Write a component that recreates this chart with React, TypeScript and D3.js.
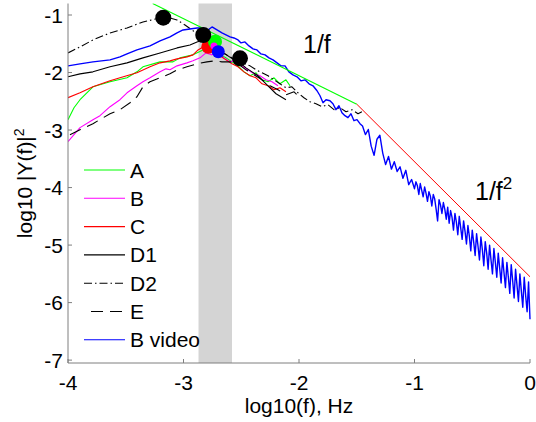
import React from 'react';
import * as d3 from 'd3';

type P = [number, number];

const xTicks = [-4, -3, -2, -1, 0];
const yTicks = [-1, -2, -3, -4, -5, -6, -7];
const bandRange: P = [-2.87, -2.58];
const oneOverF: P[] = [[-3.267, -0.8], [-1.5, -2.55]];
const oneOverF2: P[] = [[-1.5, -2.55], [0, -5.55]];

const seriesA: P[] = [
  [-4.0, -2.82], [-3.948, -2.612], [-3.896, -2.473], [-3.784, -2.248], [-3.636, -2.161], [-3.489, -2.092],
  [-3.403, -1.988], [-3.351, -1.901], [-3.203, -1.815], [-3.091, -1.815], [-3.03, -1.745], [-2.918, -1.693],
  [-2.831, -1.607], [-2.788, -1.503], [-2.736, -1.572], [-2.684, -1.693], [-2.632, -1.745], [-2.58, -1.815],
  [-2.528, -1.884], [-2.476, -1.988], [-2.424, -2.057], [-2.372, -2.005], [-2.32, -2.127], [-2.268, -2.161],
  [-2.216, -2.092], [-2.165, -2.196], [-2.113, -2.127], [-2.078, -2.231],
];
const seriesB: P[] = [
  [-4.0, -3.201], [-3.896, -2.958], [-3.784, -2.82], [-3.723, -2.75], [-3.636, -2.594], [-3.55, -2.473],
  [-3.489, -2.352], [-3.403, -2.231], [-3.351, -2.161], [-3.29, -2.092], [-3.203, -1.988], [-3.152, -1.936],
  [-3.117, -1.953], [-3.056, -1.884], [-2.97, -1.832], [-2.918, -1.797], [-2.857, -1.745], [-2.805, -1.659],
  [-2.753, -1.693], [-2.701, -1.641], [-2.65, -1.745], [-2.597, -1.815], [-2.545, -1.78], [-2.494, -1.884],
  [-2.442, -1.953], [-2.39, -2.023], [-2.338, -2.057], [-2.286, -2.127], [-2.234, -2.161], [-2.182, -2.231],
];
const seriesC: P[] = [
  [-4.0, -2.438], [-3.896, -2.352], [-3.784, -2.248], [-3.636, -2.144], [-3.55, -2.092], [-3.403, -2.005],
  [-3.29, -1.901], [-3.203, -1.832], [-3.117, -1.797], [-3.056, -1.763], [-2.97, -1.728], [-2.918, -1.693],
  [-2.874, -1.607], [-2.831, -1.555], [-2.788, -1.641], [-2.736, -1.607], [-2.684, -1.711], [-2.632, -1.78],
  [-2.58, -1.849], [-2.528, -1.901], [-2.476, -1.988], [-2.424, -2.057], [-2.372, -2.092], [-2.32, -2.196],
  [-2.268, -2.231], [-2.216, -2.3], [-2.165, -2.265], [-2.113, -2.335],
];
const seriesD1: P[] = [
  [-4.0, -2.075], [-3.896, -2.023], [-3.784, -1.988], [-3.636, -1.901], [-3.489, -1.832], [-3.351, -1.745],
  [-3.203, -1.659], [-3.056, -1.572], [-2.944, -1.52], [-2.883, -1.468], [-2.831, -1.433], [-2.788, -1.52],
  [-2.753, -1.485], [-2.71, -1.607], [-2.667, -1.641], [-2.615, -1.711], [-2.563, -1.78], [-2.511, -1.832],
  [-2.459, -1.919], [-2.407, -1.988], [-2.355, -2.057], [-2.303, -2.161], [-2.251, -2.265], [-2.199, -2.369],
  [-2.156, -2.421], [-2.113, -2.473],
];
const seriesD2: P[] = [
  [-4.0, -1.659], [-3.896, -1.555], [-3.784, -1.433], [-3.636, -1.312], [-3.489, -1.225], [-3.351, -1.121],
  [-3.203, -1.052], [-3.117, -1.052], [-3.056, -1.087], [-2.987, -1.173], [-2.926, -1.26], [-2.857, -1.364],
  [-2.797, -1.468], [-2.736, -1.555], [-2.684, -1.641], [-2.641, -1.676], [-2.597, -1.728], [-2.554, -1.763],
  [-2.511, -1.78], [-2.468, -1.849], [-2.424, -1.884], [-2.372, -1.953], [-2.32, -2.005], [-2.268, -2.057],
  [-2.216, -2.127], [-2.165, -2.196], [-2.113, -2.265], [-2.061, -2.248], [-2.009, -2.352], [-1.957, -2.438],
  [-1.905, -2.508], [-1.853, -2.542], [-1.801, -2.594], [-1.749, -2.56], [-1.697, -2.646], [-1.645, -2.612],
  [-1.593, -2.681], [-1.541, -2.646], [-1.489, -2.716], [-1.455, -2.681],
];
const seriesE: P[] = [
  [-3.983, -3.08], [-3.896, -2.993], [-3.784, -2.889], [-3.636, -2.716], [-3.55, -2.646], [-3.463, -2.525],
  [-3.403, -2.421], [-3.351, -2.248], [-3.29, -2.161], [-3.203, -2.092], [-3.117, -2.023], [-3.056, -1.953],
  [-2.97, -1.901], [-2.883, -1.849], [-2.797, -1.815], [-2.727, -1.797], [-2.667, -1.815], [-2.597, -1.815],
  [-2.528, -1.849], [-2.459, -1.953], [-2.39, -2.04], [-2.32, -2.127], [-2.251, -2.231], [-2.182, -2.3],
  [-2.113, -2.386], [-2.043, -2.335], [-1.991, -2.438],
];
const seriesBVideo: P[] = [
  [-4.0, -1.884], [-3.896, -1.849], [-3.784, -1.815], [-3.636, -1.78], [-3.55, -1.728], [-3.489, -1.676],
  [-3.403, -1.607], [-3.29, -1.537], [-3.203, -1.451], [-3.117, -1.381], [-3.056, -1.312], [-3.004, -1.26],
  [-2.944, -1.243], [-2.883, -1.225], [-2.831, -1.225], [-2.788, -1.26], [-2.753, -1.208], [-2.71, -1.26],
  [-2.667, -1.312], [-2.632, -1.347], [-2.597, -1.381], [-2.563, -1.399], [-2.528, -1.433], [-2.502, -1.485],
  [-2.468, -1.468], [-2.433, -1.537], [-2.398, -1.589], [-2.364, -1.607], [-2.329, -1.676], [-2.294, -1.693],
  [-2.26, -1.745], [-2.225, -1.78], [-2.19, -1.832], [-2.156, -1.884], [-2.121, -1.884], [-2.087, -1.988],
  [-2.052, -2.04], [-2.017, -2.075], [-1.983, -2.144], [-1.948, -2.127], [-1.913, -2.196], [-1.879, -2.231],
  [-1.844, -2.317], [-1.818, -2.404], [-1.792, -2.525], [-1.766, -2.473], [-1.732, -2.49], [-1.706, -2.542],
  [-1.68, -2.646], [-1.654, -2.577], [-1.628, -2.698], [-1.602, -2.75], [-1.576, -2.785], [-1.55, -2.716],
  [-1.524, -2.837], [-1.498, -2.82], [-1.472, -2.889],
  [-1.45, -2.93], [-1.425, -3.08], [-1.4, -2.99], [-1.375, -3.28], [-1.35, -3.44], [-1.325, -3.16],
  [-1.3, -3.09], [-1.275, -3.4], [-1.25, -3.6], [-1.225, -3.46], [-1.2, -3.68], [-1.175, -3.55],
  [-1.15, -3.72], [-1.125, -3.64], [-1.1, -3.84], [-1.075, -3.7], [-1.05, -3.95], [-1.025, -3.86],
  [-1.0, -4.02], [-0.9875, -3.9], [-0.975, -3.97], [-0.9625, -4.12], [-0.95, -3.93], [-0.9375, -4.05],
  [-0.925, -4.16], [-0.9125, -3.99], [-0.9, -4.1], [-0.8875, -4.24], [-0.875, -4.07], [-0.8625, -4.15],
  [-0.85, -4.32], [-0.8375, -4.12], [-0.825, -4.2], [-0.8125, -4.38], [-0.8, -4.58], [-0.7875, -4.21],
  [-0.775, -4.3], [-0.7625, -4.45], [-0.75, -4.26], [-0.7375, -4.38], [-0.725, -4.55], [-0.7125, -4.34],
  [-0.7, -4.62], [-0.6875, -4.4], [-0.675, -4.52], [-0.6625, -4.74], [-0.65, -4.45], [-0.6375, -4.6],
  [-0.625, -4.82], [-0.6125, -4.5], [-0.6, -4.7], [-0.5875, -4.9], [-0.575, -4.58], [-0.5625, -4.76],
  [-0.55, -4.98], [-0.5375, -4.66], [-0.525, -4.85], [-0.5125, -5.1], [-0.5, -4.74], [-0.4875, -4.95],
  [-0.475, -5.18], [-0.4625, -4.8], [-0.45, -5.02], [-0.4375, -5.26], [-0.425, -4.86], [-0.4125, -5.08],
  [-0.4, -5.36], [-0.3875, -4.94], [-0.375, -5.14], [-0.3625, -5.42], [-0.35, -5.0], [-0.3375, -5.26],
  [-0.325, -5.5], [-0.3125, -5.06], [-0.3, -5.3], [-0.2875, -5.56], [-0.275, -5.14], [-0.2625, -5.4],
  [-0.25, -5.66], [-0.2375, -5.22], [-0.225, -5.48], [-0.2125, -5.74], [-0.2, -5.3], [-0.1875, -5.56],
  [-0.175, -5.84], [-0.1625, -5.34], [-0.15, -5.62], [-0.1375, -5.92], [-0.125, -5.42], [-0.1125, -5.7],
  [-0.1, -5.98], [-0.0875, -5.5], [-0.075, -5.8], [-0.0625, -6.08], [-0.05, -5.56], [-0.0375, -5.88],
  [-0.025, -6.16], [-0.0125, -5.64], [0.0, -6.29],
];

const blackDots: P[] = [[-3.175, -1.047], [-2.829, -1.348], [-2.511, -1.753]];
const redDot: P = [-2.785, -1.551];
const greenDot: P = [-2.727, -1.464];
const magentaDot: P = [-2.736, -1.539];
const blueDot: P = [-2.699, -1.638];

const legendNames = ['A', 'B', 'C', 'D1', 'D2', 'E', 'B video'];
const legendColors = ['#00ff00', '#ff00ff', '#ff0000', '#000000', '#000000', '#000000', '#0000ff'];
const legendDash = ['', '', '', '', '8,3,1.5,3', '12,7', ''];

const W = 536;
const H = 422;
const FONT = 'Arial, "Liberation Sans", Helvetica, sans-serif';

export default function App() {
  const x = d3.scaleLinear().domain([-4, 0]).range([68, 530]);
  const y = d3.scaleLinear().domain([-7.05, -0.8]).range([363, 3.5]);
  const line = d3.line<P>().x((d) => x(d[0])).y((d) => y(d[1]));
  const series: P[][] = [seriesA, seriesB, seriesC, seriesD1, seriesD2, seriesE, seriesBVideo];
  const axisColor = '#7f7f7f';
  const fs = 21;
  return (
    <svg width={W} height={H} style={{ position: 'absolute', left: 0, top: 0, background: '#fff' }} fontFamily={FONT}>
      <defs>
        <clipPath id="plotclip">
          <rect x={x(-4)} y={y(-0.8)} width={x(0) - x(-4) + 1} height={y(-7.05) - y(-0.8)} />
        </clipPath>
      </defs>
      <rect x={0} y={0} width={W} height={H} fill="#fff" />
      <rect x={x(bandRange[0])} y={y(-0.8)} width={x(bandRange[1]) - x(bandRange[0])} height={y(-7.05) - y(-0.8)} fill="#d4d4d4" />
      <g clipPath="url(#plotclip)" fill="none">
        {series.map((s, i) => (
          <path key={i} d={line(s) || ''} stroke={legendColors[i]} strokeWidth={i === 6 ? 1.4 : 1.1}
            strokeDasharray={legendDash[i] || undefined} strokeLinejoin="round" />
        ))}
        <path d={line(oneOverF) || ''} stroke="#00ff00" strokeWidth={1.1} />
        <path d={line(oneOverF2) || ''} stroke="#ff0000" strokeWidth={1} />
      </g>
      <circle cx={x(redDot[0])} cy={y(redDot[1])} r={7} fill="#ff0000" />
      <circle cx={x(greenDot[0])} cy={y(greenDot[1])} r={7} fill="#00ff00" />
      <circle cx={x(magentaDot[0])} cy={y(magentaDot[1])} r={3.5} fill="#ff00ff" />
      <circle cx={x(blueDot[0])} cy={y(blueDot[1])} r={6.5} fill="#0000ff" />
      {blackDots.map((d, i) => (
        <circle key={i} cx={x(d[0])} cy={y(d[1])} r={8} fill="#000" />
      ))}
      <line x1={x(-4)} x2={x(0)} y1={363} y2={363} stroke={axisColor} strokeWidth={1} />
      <line x1={68} x2={68} y1={y(-0.8)} y2={363} stroke={axisColor} strokeWidth={1} />
      {xTicks.map((t) => (
        <g key={t}>
          <line x1={x(t)} x2={x(t)} y1={363} y2={359} stroke={axisColor} />
          <text x={x(t)} y={390} textAnchor="middle" fontSize={fs} fill="#000">{String(t)}</text>
        </g>
      ))}
      {yTicks.map((t) => (
        <g key={t}>
          <line x1={68} x2={72} y1={y(t)} y2={y(t)} stroke={axisColor} />
          <text x={63} y={y(t) + 7.5} textAnchor="end" fontSize={fs} fill="#000">{String(t)}</text>
        </g>
      ))}
      <text x={299} y={413} textAnchor="middle" fontSize={fs} fill="#000">log10(f), Hz</text>
      <text transform={`translate(32,${(y(-0.8) + 363) / 2}) rotate(-90)`} textAnchor="middle" fontSize={fs} fill="#000">
        log10 |Y(f)|<tspan dy={-8} fontSize={14}>2</tspan>
      </text>
      <text x={303} y={53} fontSize={25} fill="#000">1/f</text>
      <text x={475} y={200} fontSize={25} fill="#000">1/f<tspan dy={-11} fontSize={17}>2</tspan></text>
      {legendNames.map((n, i) => {
        const cy = 170 + i * 28.3;
        return (
          <g key={n}>
            <line x1={84} x2={125} y1={cy} y2={cy} stroke={legendColors[i]} strokeWidth={1.1}
              strokeDasharray={legendDash[i] || undefined} strokeDashoffset={i === 5 ? 12 : 0} />
            <text x={130} y={cy + 7.5} fontSize={fs} fill="#000">{n}</text>
          </g>
        );
      })}
    </svg>
  );
}
